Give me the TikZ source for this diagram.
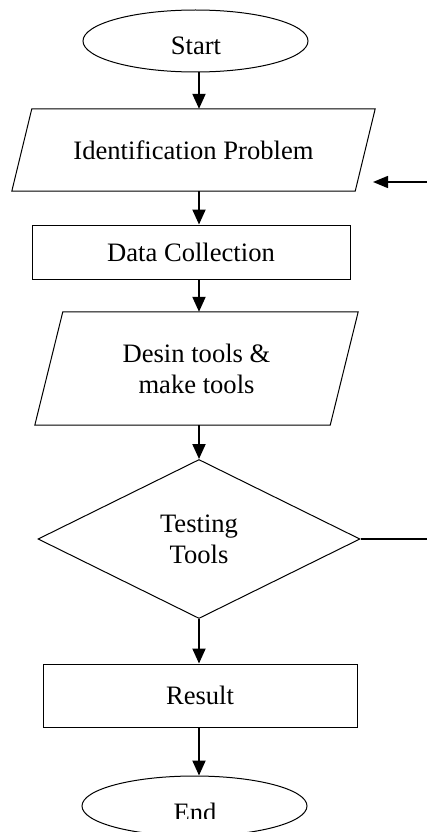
\documentclass[tikz,border=0pt]{standalone}
\usepackage{fontspec}
\setmainfont{Liberation Serif}
\usetikzlibrary{shapes.geometric,arrows.meta,calc}
\begin{document}
\begin{tikzpicture}[x=1pt,y=-1pt,
  shp/.style={draw, line width=1pt},
  txt/.style={font=\fontsize{26.6}{31}\selectfont, align=center, inner sep=0pt},
  arr/.style={line width=2pt, -{Triangle[length=15pt,width=13pt]}},
  looparr/.style={line width=1.5pt, -{Triangle[length=15pt,width=12pt]}},
]
\path[use as bounding box] (0,0) rectangle (427,832);
\clip (0,0) rectangle (427,832);
% Start
\node[shp, ellipse, minimum width=225pt, minimum height=62pt, inner sep=0pt] (start) at (195.5,41) {};
\node[txt] (startlbl) at (196,46) {Start};
% Identification Problem (parallelogram)
\node[txt, minimum width=343pt, minimum height=82pt] (ident) at (193.5,150) {Identification Problem};
\draw[shp] ($(ident.north west)+(10,0)$) -- ($(ident.north east)+(10,0)$) -- ($(ident.south east)+(-10,0)$) -- ($(ident.south west)+(-10,0)$) -- cycle;
% Data Collection
\node[shp, txt, minimum width=318pt, minimum height=54pt] (data) at (191,252) {Data Collection};
% Desin tools (parallelogram)
\node[txt, minimum width=295pt, minimum height=113pt] (desin) at (196.5,368.5) {Desin tools \&\\make tools};
\draw[shp] ($(desin.north west)+(14,0)$) -- ($(desin.north east)+(14,0)$) -- ($(desin.south east)+(-14,0)$) -- ($(desin.south west)+(-14,0)$) -- cycle;
% Testing Tools
\node[shp, txt, diamond, minimum width=322pt, minimum height=159pt] (test) at (199,539) {Testing\\Tools};
% Result
\node[shp, txt, minimum width=314pt, minimum height=63pt] (result) at (200,695.5) {Result};
% End
\node[shp, ellipse, minimum width=225pt, minimum height=60pt, inner sep=0pt] (end) at (194.5,806) {};
\begin{scope}
\clip (0,0) rectangle (427,818);
\node[txt] (endlbl) at (195,812) {End};
\end{scope}
% connectors
\draw[arr] (start.south -| test.north) -- (ident.north -| test.north);
\draw[arr] (ident.south -| test.north) -- (data.north -| test.north);
\draw[arr] (data.south -| test.north) -- (desin.north -| test.north);
\draw[arr] (desin.south -| test.north) -- (test.north);
\draw[arr] (test.south) -- (result.north -| test.south);
\draw[arr] (result.south -| test.south) -- (end.north -| test.south);
\coordinate (loopend) at (373,182);
\coordinate (loopcorner) at (440,539);
\draw[looparr] (test.east) -- (loopcorner) |- (loopend);
\end{tikzpicture}
\end{document}
